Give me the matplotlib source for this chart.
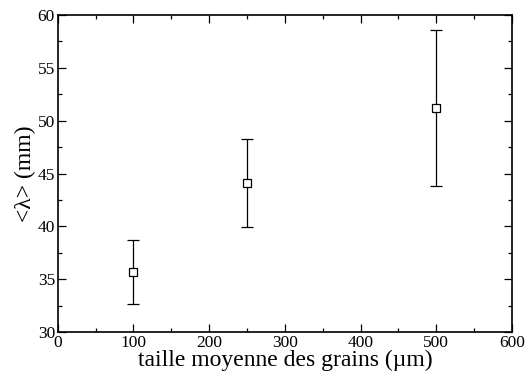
import matplotlib.pyplot as plt
from matplotlib.ticker import MultipleLocator

plt.rcParams['font.family'] = ['Liberation Serif', 'DejaVu Serif']

# grain size (um), mean wavelength (mm), error
taille = [100, 250, 500]
lam = [35.7, 44.1, 51.2]
err = [3.05, 4.15, 7.35]

fig = plt.figure(figsize=(5.25, 3.76), dpi=100)
ax = fig.add_axes([0.110, 0.117, 0.865, 0.843])

ax.errorbar(taille, lam, yerr=err, fmt='s', mfc='white', mec='black',
            ms=5.5, mew=0.9, ecolor='black', elinewidth=0.9, capsize=4, capthick=0.9)

ax.set_xlim(0, 600)
ax.set_ylim(30, 60)
ax.xaxis.set_major_locator(MultipleLocator(100))
ax.xaxis.set_minor_locator(MultipleLocator(50))
ax.yaxis.set_major_locator(MultipleLocator(5))
ax.yaxis.set_minor_locator(MultipleLocator(2.5))
ax.tick_params(which='both', direction='in', top=True, right=True, labelsize=12.5)
ax.tick_params(which='major', length=6, width=0.9, pad=2)
ax.tick_params(which='minor', length=3, width=0.9)
for s in ax.spines.values():
    s.set_linewidth(1.2)

ax.set_xlabel('taille moyenne des grains (\u00b5m)', fontsize=17, labelpad=-1)
ax.set_ylabel('<\u03bb> (mm)', fontsize=17, labelpad=1)

fig.savefig('out.png', dpi=100)
